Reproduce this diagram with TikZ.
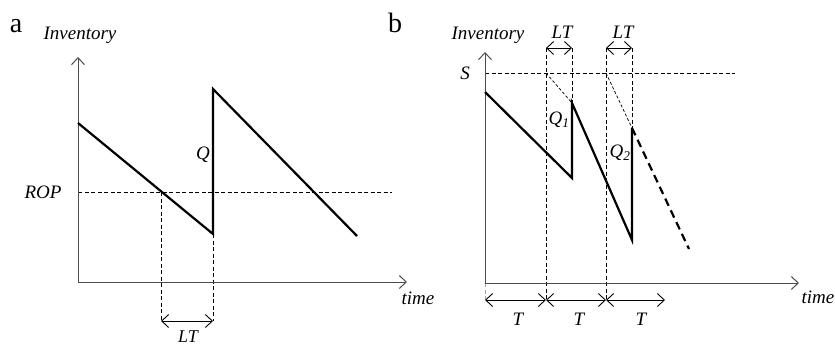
\documentclass[tikz,border=0pt]{standalone}
\usepackage{fontspec}
\setmainfont{Liberation Serif}
\usetikzlibrary{arrows.meta, positioning, calc}

\begin{document}
\begin{tikzpicture}[x=1pt, y=-1pt,
        axis/.style={draw=black!70, line width=1pt, -{Straight Barb[length=7pt, width=13pt]}},
        stock/.style={draw=black, line width=2.2pt},
        guide/.style={draw=black, line width=0.9pt, dash pattern=on 4pt off 2.5pt},
        span/.style={draw=black, line width=0.9pt, {Straight Barb[length=7pt, width=13pt]}-{Straight Barb[length=7pt, width=13pt]}},
        lbl/.style={font=\fontsize{19}{22}\selectfont\itshape, inner sep=1pt},
        panel/.style={font=\fontsize{28}{30}\selectfont, inner sep=0pt, anchor=base}]

        \useasboundingbox (0,0) rectangle (835,346);

        % a: reorder point
        \node [panel] (pa) at (16,32) {a};
        \coordinate (oa) at (78,282);
        \coordinate (ya) at (78,57);
        \coordinate (xa) at (407,282);
        \coordinate (a1) at (78,123);
        \coordinate (a2) at (213,234);
        \coordinate (a3) at (213,89);
        \coordinate (a4) at (357,236);
        \coordinate (ropl) at (78,192);
        \coordinate (ropr) at (392,192);
        \coordinate (cross) at (161,192);
        \coordinate (lta) at (161,321);
        \coordinate (ltb) at (213,321);
        \node [lbl, font=\fontsize{18}{20}\selectfont\itshape] (lt) at (188,336.5) {LT};
        \node [lbl] (inva) at (80,35) {Inventory};
        \node [lbl] (timea) at (418,298) {time};
        \node [lbl] (rop) at (43,192) {ROP};
        \node [lbl] (q) at (203,155) {Q};

        \path [guide] (ropl) -- (ropr);
        \path [guide] (cross) -- (lta);
        \path [guide] (a2) -- (ltb);
        \path [span] (lta) -- (ltb);
        \path [axis] (oa) -- (ya);
        \path [axis] (oa) -- (xa);
        \path [stock] (a1) -- (a2) -- (a3) -- (a4);

        % b: order-up-to level
        \node [panel] (pb) at (395,32) {b};
        \coordinate (ob) at (485,283);
        \coordinate (yb) at (485,52);
        \coordinate (xb) at (799,283);
        \coordinate (sl) at (485,73);
        \coordinate (sr) at (735,73);
        \coordinate (b1) at (485,92);
        \coordinate (b2) at (572,178);
        \coordinate (b3) at (572,103);
        \coordinate (b4) at (632,240);
        \coordinate (b5) at (632,128);
        \coordinate (b6) at (689,249);
        \coordinate (r1) at (546,73);
        \coordinate (r2) at (606,73);
        \coordinate (r1top) at (546,48);
        \coordinate (a1top) at (572,48);
        \coordinate (r2top) at (606,48);
        \coordinate (a2top) at (632,48);
        \coordinate (t0) at (485,300);
        \coordinate (t1) at (546,300);
        \coordinate (t2) at (606,300);
        \coordinate (t3) at (665,300);
        \node [lbl] (invb) at (488,35) {Inventory};
        \node [lbl] (timeb) at (818,297) {time};
        \node [lbl] (s) at (465,73) {S};
        \node [lbl] (q1) at (559,120) {Q\textsubscript{1}};
        \node [lbl] (q2) at (620,153) {Q\textsubscript{2}};
        \node [lbl] (lt1) at (562,32) {LT};
        \node [lbl] (lt2) at (623,32) {LT};
        \node [lbl] (tp1) at (518,319) {T};
        \node [lbl] (tp2) at (579,319) {T};
        \node [lbl] (tp3) at (641,319) {T};

        \path [guide] (sl) -- (sr);
        \path [guide] (r1top) -- (t1);
        \path [guide] (r2top) -- (t2);
        \path [guide] (a1top) -- (b3);
        \path [guide] (a2top) -- (b5);
        \path [guide, line width=0.7pt, dash pattern=on 3pt off 2pt] (r1) -- (b3);
        \path [guide, line width=0.7pt, dash pattern=on 3pt off 2pt] (r2) -- (b5);
        \path [guide, draw=blue!40] (ob) -- (t0);
        \path [span] (r1top) -- (a1top);
        \path [span] (r2top) -- (a2top);
        \path [span] (t0) -- (t1);
        \path [span] (t1) -- (t2);
        \path [span] (t2) -- (t3);
        \path [axis] (ob) -- (yb);
        \path [axis] (ob) -- (xb);
        \path [stock] (b1) -- (b2) -- (b3) -- (b4) -- (b5);
        \path [stock, dash pattern=on 8pt off 5pt] (b5) -- (b6);
    \end{tikzpicture}
\end{document}
